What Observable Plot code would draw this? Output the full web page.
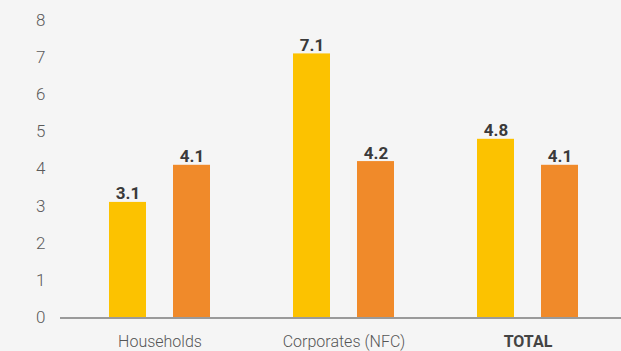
<!DOCTYPE html>
<html>
<head>
<meta charset="utf-8">
<script src="https://cdn.jsdelivr.net/npm/d3@7"></script>
<script src="https://cdn.jsdelivr.net/npm/@observablehq/plot@0.6"></script>
<style>
  html, body { margin: 0; padding: 0; background: #f5f5f5; }
  svg { display: block; }
</style>
</head>
<body>
<div id="chart"></div>
<script>
const categories = ["Households", "Corporates (NFC)", "TOTAL"];
const seriesNames = ["Series 1", "Series 2"];
const series1 = [3.1, 7.1, 4.8];
const series2 = [4.1, 4.2, 4.1];
const yTicks = [0, 1, 2, 3, 4, 5, 6, 7, 8];
const colors = ["#fcc200", "#f08a2a"];

const data = [];
categories.forEach((c, i) => {
  data.push({category: c, series: seriesNames[0], value: series1[i]});
  data.push({category: c, series: seriesNames[1], value: series2[i]});
});

const chart = Plot.plot({
  width: 621,
  height: 351,
  marginLeft: 60,
  marginRight: 0,
  marginTop: 20,
  marginBottom: 34,
  style: {background: "#f5f5f5", fontFamily: "Roboto, sans-serif"},
  fx: {domain: categories, paddingInner: 0.442, paddingOuter: 0.244, align: 0.533, label: null},
  x: {domain: seriesNames, paddingInner: 0.415, paddingOuter: 0, axis: null},
  y: {domain: [0, 8], axis: null},
  color: {domain: seriesNames, range: colors},
  marks: [
    Plot.axisY({ticks: yTicks, tickSize: 0, tickPadding: 63, fontSize: 17, fontWeight: 300, fill: "#5a5a5a", label: null}),
    Plot.axisFx({anchor: "bottom", ticks: categories.filter(c => c !== "TOTAL"), tickSize: 0, tickPadding: 18, fontSize: 16, fontWeight: 300, fill: "#555", label: null}),
    Plot.axisFx({anchor: "bottom", ticks: ["TOTAL"], tickSize: 0, tickPadding: 18, fontSize: 16, fontWeight: "bold", fill: "#444", label: null}),
    Plot.barY(data, {fx: "category", x: "series", y: "value", fill: "series"}),
    Plot.text(data, {fx: "category", x: "series", y: "value", text: d => d.value.toFixed(1), lineAnchor: "bottom", dy: -3, fontSize: 17, fontWeight: "bold", fill: "#3a3a3a"}),
    Plot.ruleY([0], {stroke: "#9a9a9a", strokeWidth: 2, shapeRendering: "crispEdges", insetLeft: -48, insetRight: -42})
  ]
});
document.getElementById("chart").appendChild(chart);
</script>
</body>
</html>
